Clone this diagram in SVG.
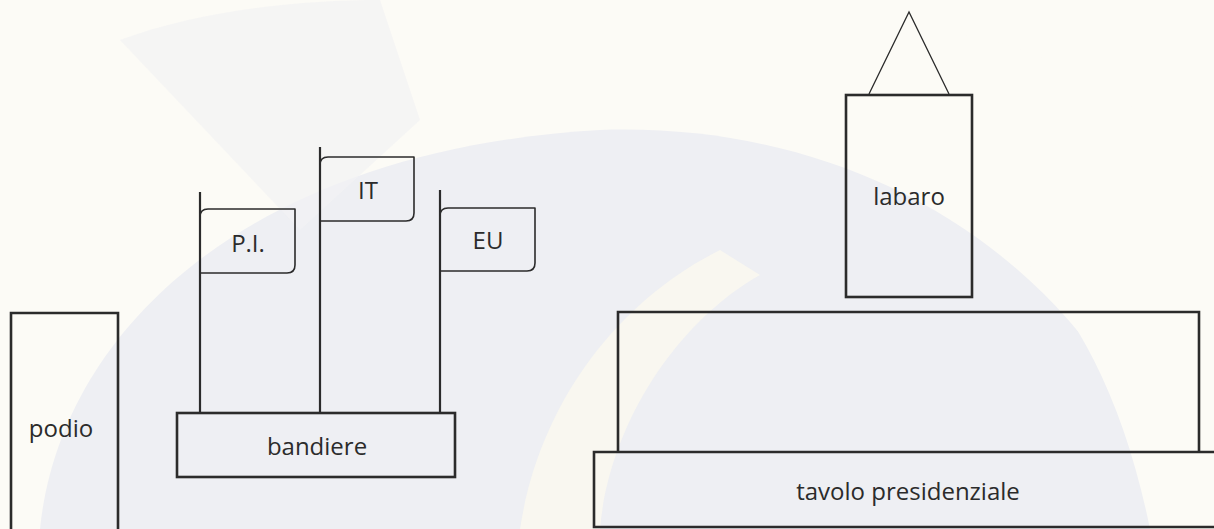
<svg xmlns="http://www.w3.org/2000/svg" width="1214" height="529" viewBox="0 0 1214 529">
<style>
.box{fill:none;stroke:#2b2b2b;stroke-width:2.6}
.pole{fill:none;stroke:#2b2b2b;stroke-width:2.2}
.flag{fill:none;stroke:#2b2b2b;stroke-width:1.6;stroke-linejoin:round}
.thin{fill:none;stroke:#2b2b2b;stroke-width:1.3}
.lbl{font-family:"Open Sans","Noto Sans","Liberation Sans",sans-serif;font-size:24px;fill:#2b2b2b;text-anchor:middle}
</style>
<g id="background">
<rect x="0" y="0" width="1214" height="529" fill="#fcfbf6"/>
<path d="M40,529 C60,330 250,150 600,130 C900,120 1120,300 1180,529 Z" fill="#eeeff3"/>
<path d="M520,529 C540,400 620,300 720,250 L760,275 C680,320 610,420 600,529 Z" fill="#fbf9ef" opacity="0.8"/>
<path d="M120,40 C200,10 300,0 380,0 L420,120 L300,230 Z" fill="#f2f2f4" opacity="0.7"/>
<path d="M930,30 C1050,40 1180,120 1214,200 L1214,529 L1150,529 C1120,380 1060,280 980,220 Z" fill="#fcfbf6"/>
</g>
<g id="podio">
<path class="box" d="M11,529 L11,313 L118,313 L118,529"/>
<text class="lbl" x="61" y="437">podio</text>
</g>
<g id="flag-pi">
<line class="pole" x1="200" y1="192" x2="200" y2="413"/>
<path class="flag" d="M200,217 Q200,209 208,209 L295,209 L295,265 Q295,273 287,273 L200,273"/>
<text class="lbl" x="248" y="252">P.I.</text>
</g>
<g id="flag-it">
<line class="pole" x1="320" y1="147" x2="320" y2="413"/>
<path class="flag" d="M320,165 Q320,157 328,157 L414,157 L414,213 Q414,221 406,221 L320,221"/>
<text class="lbl" x="368" y="199">IT</text>
</g>
<g id="flag-eu">
<line class="pole" x1="440" y1="190" x2="440" y2="413"/>
<path class="flag" d="M440,216 Q440,208 448,208 L535,208 L535,263 Q535,271 527,271 L440,271"/>
<text class="lbl" x="488" y="249">EU</text>
</g>
<g id="bandiere">
<rect class="box" x="177" y="413" width="278" height="64"/>
<text class="lbl" x="317" y="455">bandiere</text>
</g>
<g id="labaro">
<polyline class="thin" points="869,94 909,12 949,94"/>
<rect class="box" x="846" y="95" width="126" height="202"/>
<text class="lbl" x="909" y="205">labaro</text>
</g>
<g id="tavolo-alto">
<path class="box" d="M618,451 L618,312 L1199,312 L1199,451"/>
</g>
<g id="tavolo-presidenziale">
<path class="box" d="M1216,452 L594,452 L594,527 L1216,527"/>
<text class="lbl" x="908" y="500">tavolo presidenziale</text>
</g>
<g id="connectors"></g>
</svg>
